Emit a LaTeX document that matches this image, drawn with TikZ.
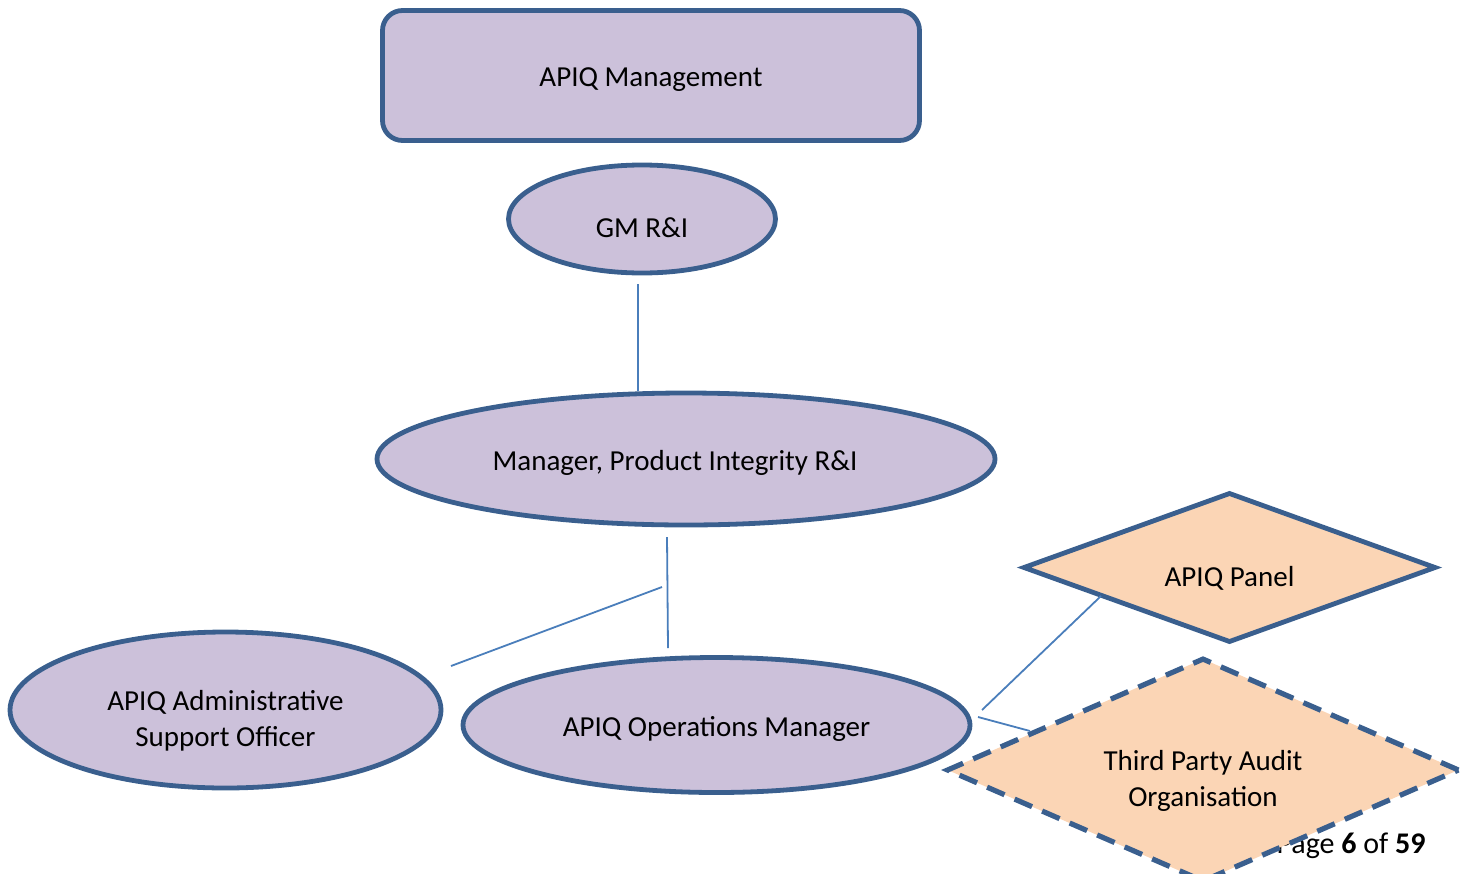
\documentclass[tikz,border=0pt]{standalone}
\usepackage{fontspec}
\setmainfont{Carlito}
\usetikzlibrary{shapes.geometric}
\definecolor{edgeblue}{HTML}{3A5F8E}
\definecolor{lilac}{HTML}{CCC1DA}
\definecolor{peach}{HTML}{FBD5B5}
\definecolor{linkblue}{HTML}{4A7EBB}
\tikzset{
  txt/.style={font=\fontsize{29}{36}\selectfont, align=center, text=black},
  oval/.style={ellipse, draw=edgeblue, line width=4.8pt, fill=lilac, inner sep=0pt},
  box/.style={rectangle, rounded corners=20pt, draw=edgeblue, line width=4.8pt, fill=lilac, inner sep=0pt},
  gem/.style={diamond, draw=edgeblue, line width=4.8pt, fill=peach, inner sep=0pt},
  link/.style={draw=linkblue, line width=1.8pt},
}
\begin{document}
\begin{tikzpicture}[x=1pt,y=-1pt]
\useasboundingbox (0,0) rectangle (1467,873);
\node[box, minimum width=537pt, minimum height=130pt,
  label={[txt, yshift=-4pt]center:APIQ Management}] (mgmt) at (651,75.5) {};
\node[oval, minimum width=267pt, minimum height=108pt,
  label={[txt, yshift=-9pt]center:GM R\&I}] (gm) at (642,219) {};
\node[oval, minimum width=618pt, minimum height=132pt,
  label={[txt, yshift=-4pt, xshift=-11pt]center:Manager, Product Integrity R\&I}] (pim) at (686,459) {};
\node[oval, minimum width=431pt, minimum height=156pt,
  label={[txt, yshift=-11pt]center:APIQ Administrative\\Support Officer}] (admin) at (225.5,710) {};
\node[oval, minimum width=507pt, minimum height=135pt,
  label={[txt, yshift=-4pt]center:APIQ Operations Manager}] (ops) at (716.5,725) {};
\node[gem, minimum width=413pt, minimum height=150pt,
  label={[txt, yshift=-11pt]center:APIQ Panel}] (panel) at (1229.5,567.5) {};
\node[anchor=base east, font=\fontsize{30}{36}\selectfont] (page) at (1429,853) {Page \textbf{6} of \textbf{59}};
\node[gem, dashed, dash pattern=on 19pt off 11pt, line width=5.2pt, minimum width=513pt, minimum height=224pt,
  label={[txt, yshift=-11pt]center:Third Party Audit\\Organisation}] (tpa) at (1203,770) {};
\coordinate (a1) at (638,284);
\coordinate (a2) at (638,391);
\coordinate (b1) at (667,537);
\coordinate (b2) at (668,648);
\coordinate (c1) at (662,587);
\coordinate (c2) at (451,666);
\coordinate (d1) at (982,710);
\coordinate (d2) at (1101,596);
\coordinate (e1) at (978,717);
\coordinate (e2) at (1030,731);
\draw[link] (a1) -- (a2);
\draw[link] (b1) -- (b2);
\draw[link] (c1) -- (c2);
\draw[link] (d1) -- (d2);
\draw[link] (e1) -- (e2);
\end{tikzpicture}
\end{document}
